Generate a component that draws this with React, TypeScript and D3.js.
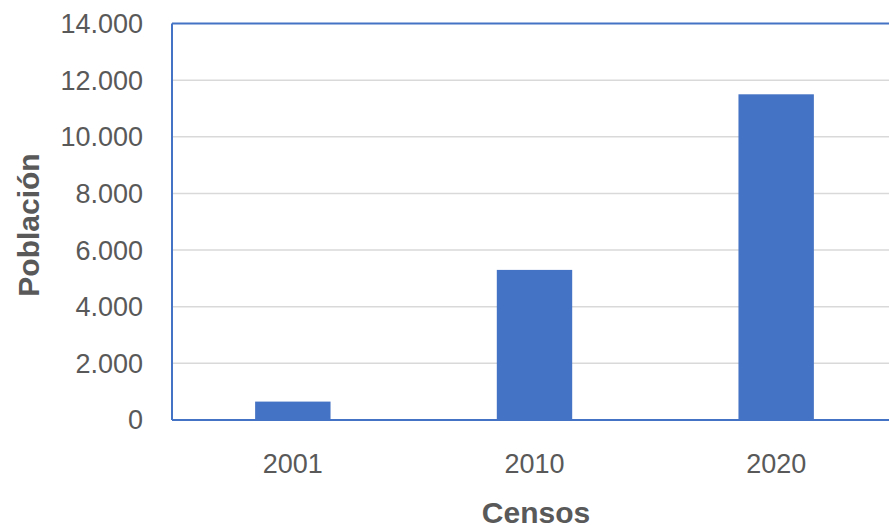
import React from "react";
import * as d3 from "d3";

const categories = ["2001", "2010", "2020"];
const values = [650, 5300, 11500];
const yTicks = [0, 2000, 4000, 6000, 8000, 10000, 12000, 14000];
const yTickLabels = ["0", "2.000", "4.000", "6.000", "8.000", "10.000", "12.000", "14.000"];
const xTitle = "Censos";
const yTitle = "Población";

export default function App() {
  const W = 889, H = 527;
  const left = 172, right = 897, top = 23.5, bottom = 420;
  const x = d3.scaleBand<string>().domain(categories).range([left, right]).paddingInner(0.688).paddingOuter(0.344);
  const y = d3.scaleLinear().domain([0, 14000]).range([bottom, top]);
  const font = "'Liberation Sans', Arial, sans-serif";
  const blue = "#4472C4";
  return (
    <svg width={W} height={H} style={{ position: "absolute", left: 0, top: 0, background: "#fff" }}>
      {yTicks.map((t, i) => (
        <g key={t}>
          {t !== 0 && t !== 14000 && (
            <line x1={left} x2={right} y1={y(t)} y2={y(t)} stroke="#d9d9d9" strokeWidth={1.5} />
          )}
          <text x={143} y={y(t)} dy="0.35em" textAnchor="end" fontFamily={font} fontSize={27} fill="#595959">
            {yTickLabels[i]}
          </text>
        </g>
      ))}
      {categories.map((c, i) => (
        <rect key={c} x={x(c)} y={y(values[i])} width={x.bandwidth()} height={bottom - y(values[i])} fill={blue} />
      ))}
      <line x1={left} x2={right} y1={top} y2={top} stroke={blue} strokeWidth={2} />
      <line x1={left} x2={left} y1={top} y2={bottom} stroke={blue} strokeWidth={2} />
      <line x1={left} x2={right} y1={bottom} y2={bottom} stroke={blue} strokeWidth={2} />
      {categories.map((c) => (
        <text key={c} x={(x(c) as number) + x.bandwidth() / 2} y={464} dy="0.35em" textAnchor="middle" fontFamily={font} fontSize={27} fill="#595959">
          {c}
        </text>
      ))}
      <text x={536} y={512} dy="0.35em" textAnchor="middle" fontFamily={font} fontSize={30} fontWeight="bold" fill="#595959">
        {xTitle}
      </text>
      <text transform={`translate(28,${225}) rotate(-90)`} dy="0.35em" textAnchor="middle" fontFamily={font} fontSize={30} fontWeight="bold" fill="#595959">
        {yTitle}
      </text>
    </svg>
  );
}
